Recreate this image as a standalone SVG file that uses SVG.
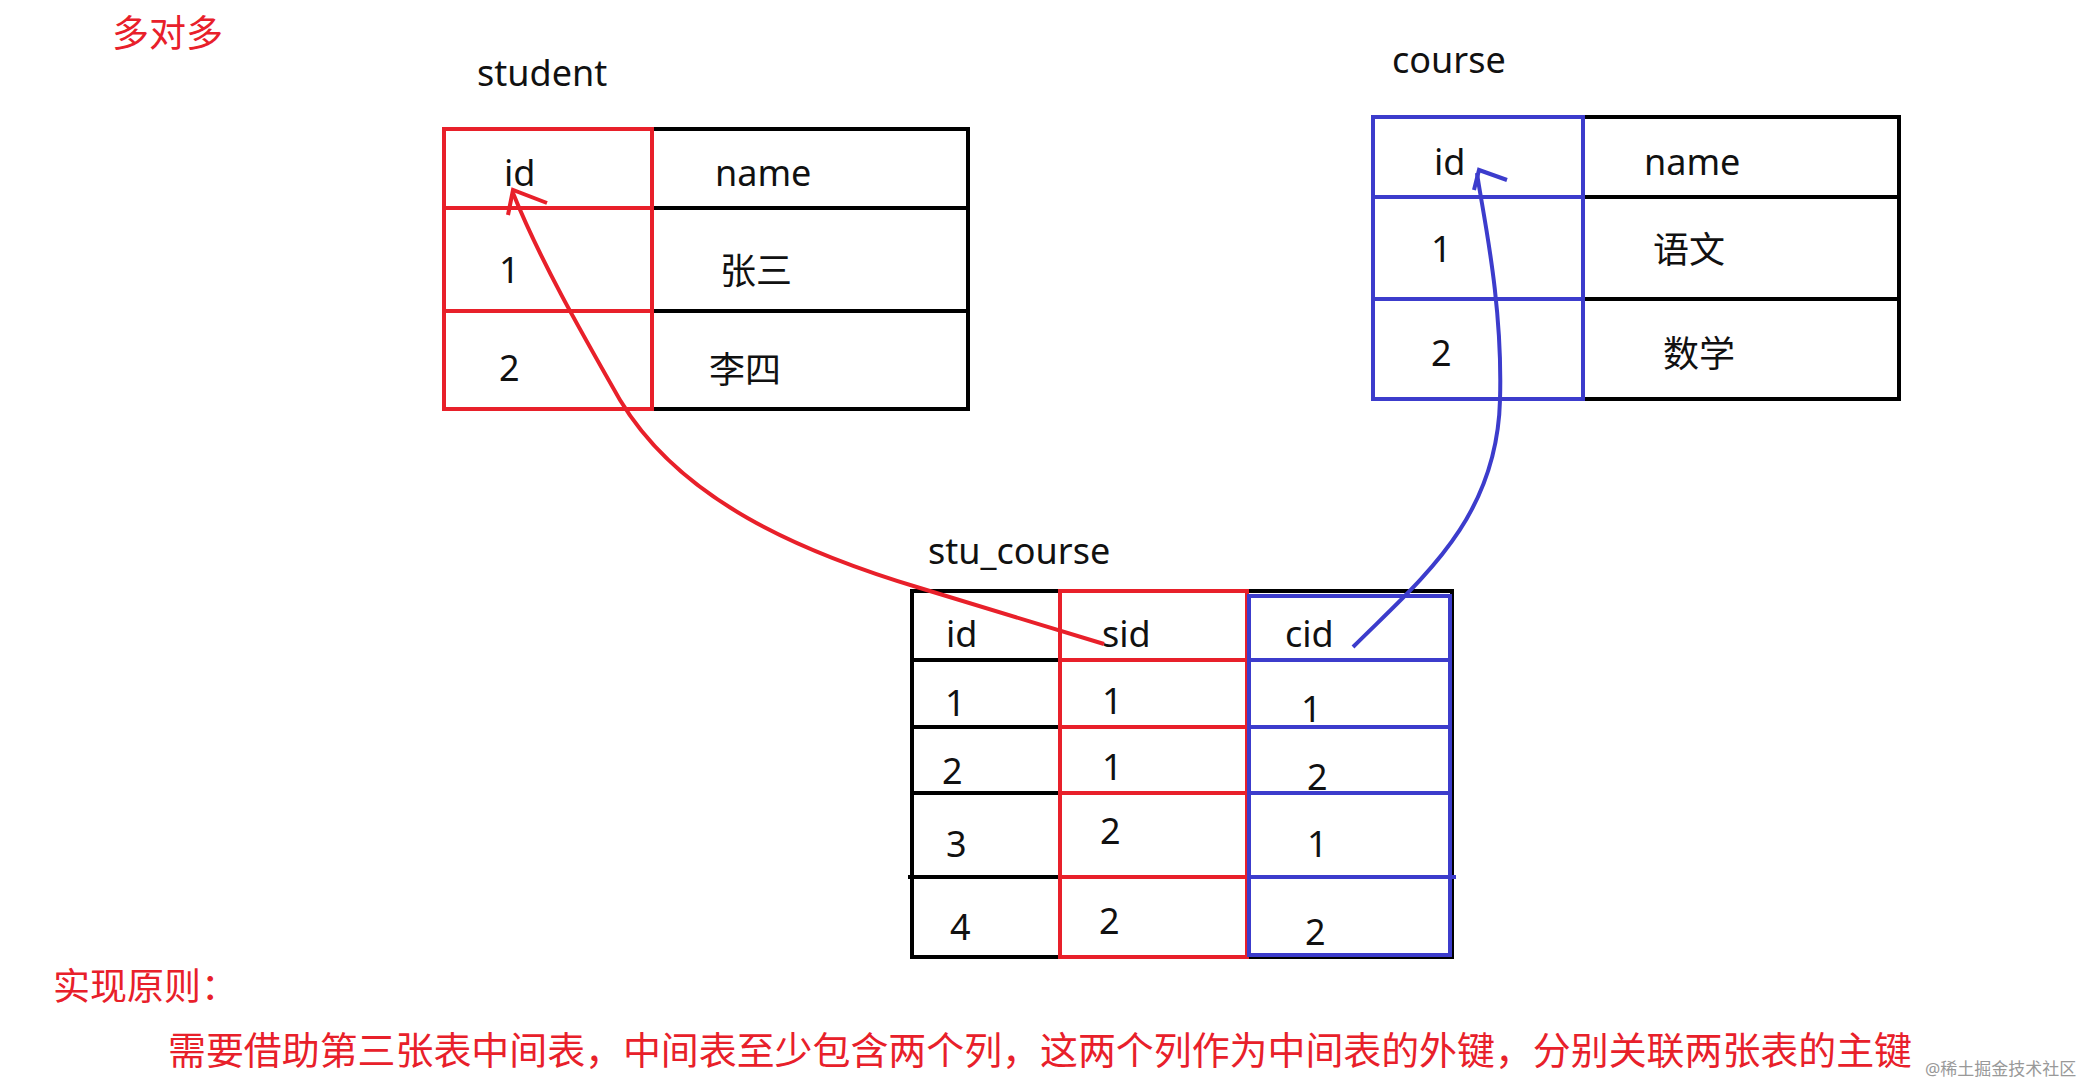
<svg xmlns="http://www.w3.org/2000/svg" width="2090" height="1085" viewBox="0 0 2090 1085">
<style>
text{font-family:"Noto Sans","Noto Sans CJK SC",sans-serif;font-size:36px;fill:#111}
.red{fill:#e8202a}
.k{fill:none;stroke:#000;stroke-width:4}
.r{fill:none;stroke:#e8202a;stroke-width:4}
.b{fill:none;stroke:#3c3ccc;stroke-width:4}
</style>
<rect width="2090" height="1085" fill="#fff"/>
<text class="red" x="112" y="47" style="font-size:37px">多对多</text>
<g id="student">
<text x="477" y="86" style="font-size:36px">student</text>
<rect class="k" x="444" y="129" width="524" height="280"/>
<line class="k" x1="652" y1="208" x2="968" y2="208"/><line class="k" x1="652" y1="311" x2="970" y2="311"/>
<rect class="r" x="444" y="129" width="208" height="280"/>
<line class="r" x1="444" y1="208" x2="652" y2="208"/><line class="r" x1="444" y1="311" x2="652" y2="311"/>
<text x="504" y="186">id</text><text x="715" y="186">name</text>
<text x="499" y="283">1</text><text x="720" y="284">张三</text>
<text x="499" y="381">2</text><text x="709" y="383">李四</text>
</g>
<g id="course">
<text x="1392" y="73">course</text>
<rect class="k" x="1373" y="117" width="526" height="282"/>
<line class="k" x1="1583" y1="197" x2="1899" y2="197"/><line class="k" x1="1583" y1="299" x2="1901" y2="299"/>
<rect class="b" x="1373" y="117" width="210" height="282"/>
<line class="b" x1="1373" y1="197" x2="1583" y2="197"/><line class="b" x1="1373" y1="299" x2="1583" y2="299"/>
<text x="1434" y="175">id</text><text x="1644" y="175">name</text>
<text x="1431" y="262">1</text><text x="1653" y="263">语文</text>
<text x="1431" y="366">2</text><text x="1663" y="367">数学</text>
</g>
<g id="stu_course">
<text x="928" y="564">stu_course</text>
<rect class="k" x="912" y="591" width="540" height="366"/>
<line class="k" x1="912" y1="660" x2="1060" y2="660"/><line class="k" x1="912" y1="727" x2="1060" y2="727"/>
<line class="k" x1="910" y1="793" x2="1060" y2="793"/><line class="k" x1="908" y1="877" x2="1060" y2="877"/>
<rect class="r" x="1060" y="591" width="187" height="366"/>
<line class="r" x1="1060" y1="660" x2="1247" y2="660"/><line class="r" x1="1060" y1="727" x2="1247" y2="727"/>
<line class="r" x1="1060" y1="793" x2="1247" y2="793"/><line class="r" x1="1060" y1="877" x2="1247" y2="877"/>
<rect class="b" x="1249" y="596" width="201" height="359"/>
<line class="b" x1="1249" y1="660" x2="1450" y2="660"/><line class="b" x1="1249" y1="727" x2="1450" y2="727"/>
<line class="b" x1="1249" y1="793" x2="1452" y2="793"/><line class="b" x1="1249" y1="877" x2="1456" y2="877"/>
<text x="946" y="647">id</text><text x="1102" y="647">sid</text><text x="1285" y="647">cid</text>
<text x="945" y="716">1</text><text x="1102" y="714">1</text><text x="1301" y="722">1</text>
<text x="942" y="784">2</text><text x="1102" y="780">1</text><text x="1307" y="790">2</text>
<text x="946" y="857">3</text><text x="1100" y="844">2</text><text x="1307" y="857">1</text>
<text x="950" y="940">4</text><text x="1099" y="934">2</text><text x="1305" y="945">2</text>
</g>
<g id="connectors">
<path class="r" d="M1104,644 L920,588 C800,552 680,500 620,400 C580,330 540,260 513,193"/>
<path class="r" d="M508,215 L513,190 L547,203"/>
<path class="b" d="M1353,647 C1420,580 1497,520 1500,400 C1503,300 1482,210 1477,173"/>
<path class="b" d="M1474,190 L1479,170 L1507,180"/>
</g>
<text class="red" x="53" y="1000" style="font-size:37px">实现原则：</text>
<text class="red" x="168" y="1064" style="font-size:38px" textLength="1744" lengthAdjust="spacingAndGlyphs">需要借助第三张表中间表，中间表至少包含两个列，这两个列作为中间表的外键，分别关联两张表的主键</text>
<text x="1925" y="1075" style="font-size:17px;fill:#999">@稀土掘金技术社区</text>
</svg>
